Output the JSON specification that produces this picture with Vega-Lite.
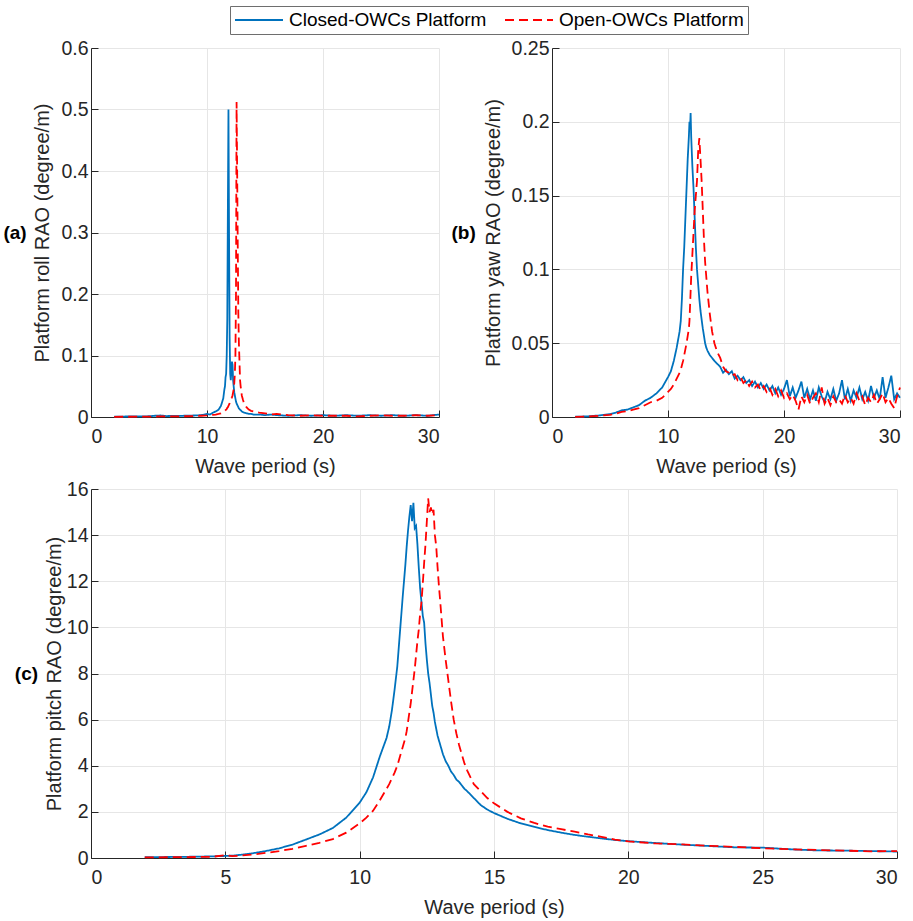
{
  "$schema": "https://vega.github.io/schema/vega-lite/v6.json",
  "background": "white",
  "padding": {"left": 3, "top": 5, "right": 5, "bottom": 3},
  "config": {
    "font": "Liberation Sans",
    "view": {"stroke": null},
    "axis": {
      "domainColor": "#262626",
      "domainWidth": 1,
      "tickColor": "#262626",
      "tickSize": -7,
      "labelFont": "Liberation Sans",
      "labelFontSize": 19.5,
      "labelColor": "#262626",
      "titleFont": "Liberation Sans",
      "titleFontSize": 20,
      "titleFontWeight": "normal",
      "titleColor": "#262626",
      "gridColor": "#e6e6e6",
      "gridWidth": 1
    },
    "axisX": {"labelPadding": 17, "titlePadding": 11},
    "axisY": {"labelPadding": 10, "titlePadding": 5},
    "line": {"strokeWidth": 1.8}
  },
  "datasets": {
    "a": [
      {"t": 2, "closed": 0.0005, "open": 0.0003},
      {"t": 3, "closed": 0.0008, "open": 0.0004},
      {"t": 4, "closed": 0.001, "open": 0.0005},
      {"t": 5, "closed": 0.0012, "open": 0.0006},
      {"t": 5.5, "closed": 0.002, "open": 0.0008},
      {"t": 6, "closed": 0.0025, "open": 0.001},
      {"t": 6.5, "closed": 0.0015, "open": 0.0009},
      {"t": 7, "closed": 0.0018, "open": 0.001},
      {"t": 8, "closed": 0.002, "open": 0.0012},
      {"t": 9, "closed": 0.0025, "open": 0.0015},
      {"t": 9.5, "closed": 0.003, "open": 0.002},
      {"t": 10, "closed": 0.005, "open": 0.0025},
      {"t": 10.25, "closed": 0.004, "open": 0.003},
      {"t": 10.5, "closed": 0.007, "open": 0.0035},
      {"t": 10.75, "closed": 0.009, "open": 0.004},
      {"t": 11, "closed": 0.012, "open": 0.005},
      {"t": 11.1, "closed": 0.015, "open": 0.0055},
      {"t": 11.2, "closed": 0.018, "open": 0.006},
      {"t": 11.3, "closed": 0.024, "open": 0.007},
      {"t": 11.4, "closed": 0.03, "open": 0.008},
      {"t": 11.5, "closed": 0.045, "open": 0.009},
      {"t": 11.55, "closed": 0.05, "open": 0.01},
      {"t": 11.6, "closed": 0.065, "open": 0.011},
      {"t": 11.65, "closed": 0.07, "open": 0.012},
      {"t": 11.7, "closed": 0.1, "open": 0.013},
      {"t": 11.75, "closed": 0.16, "open": 0.015},
      {"t": 11.8, "closed": 0.34, "open": 0.016},
      {"t": 11.85, "closed": 0.5, "open": 0.018},
      {"t": 11.9, "closed": 0.3, "open": 0.02},
      {"t": 11.95, "closed": 0.13, "open": 0.022},
      {"t": 12, "closed": 0.07, "open": 0.025},
      {"t": 12.05, "closed": 0.06, "open": 0.027},
      {"t": 12.1, "closed": 0.075, "open": 0.03},
      {"t": 12.15, "closed": 0.09, "open": 0.032},
      {"t": 12.2, "closed": 0.085, "open": 0.035},
      {"t": 12.25, "closed": 0.06, "open": 0.04},
      {"t": 12.3, "closed": 0.05, "open": 0.045},
      {"t": 12.35, "closed": 0.04, "open": 0.055},
      {"t": 12.4, "closed": 0.035, "open": 0.07},
      {"t": 12.45, "closed": 0.03, "open": 0.1},
      {"t": 12.5, "closed": 0.025, "open": 0.2},
      {"t": 12.55, "closed": 0.022, "open": 0.512},
      {"t": 12.6, "closed": 0.02, "open": 0.4},
      {"t": 12.65, "closed": 0.018, "open": 0.28},
      {"t": 12.7, "closed": 0.016, "open": 0.17},
      {"t": 12.75, "closed": 0.014, "open": 0.12},
      {"t": 12.8, "closed": 0.013, "open": 0.09},
      {"t": 12.85, "closed": 0.012, "open": 0.06},
      {"t": 12.9, "closed": 0.011, "open": 0.05},
      {"t": 13, "closed": 0.009, "open": 0.035},
      {"t": 13.1, "closed": 0.008, "open": 0.028},
      {"t": 13.2, "closed": 0.007, "open": 0.022},
      {"t": 13.4, "closed": 0.006, "open": 0.016},
      {"t": 13.6, "closed": 0.005, "open": 0.012},
      {"t": 13.8, "closed": 0.005, "open": 0.01},
      {"t": 14, "closed": 0.004, "open": 0.009},
      {"t": 14.5, "closed": 0.004, "open": 0.007},
      {"t": 15, "closed": 0.003, "open": 0.006},
      {"t": 15.5, "closed": 0.004, "open": 0.004},
      {"t": 16, "closed": 0.003, "open": 0.005},
      {"t": 17, "closed": 0.002, "open": 0.003},
      {"t": 18, "closed": 0.003, "open": 0.002},
      {"t": 19, "closed": 0.002, "open": 0.003},
      {"t": 20, "closed": 0.003, "open": 0.002},
      {"t": 21, "closed": 0.002, "open": 0.002},
      {"t": 22, "closed": 0.003, "open": 0.002},
      {"t": 23, "closed": 0.002, "open": 0.001},
      {"t": 24, "closed": 0.003, "open": 0.002},
      {"t": 25, "closed": 0.002, "open": 0.003},
      {"t": 26, "closed": 0.003, "open": 0.002},
      {"t": 27, "closed": 0.002, "open": 0.002},
      {"t": 28, "closed": 0.003, "open": 0.003},
      {"t": 29, "closed": 0.002, "open": 0.002},
      {"t": 30, "closed": 0.004, "open": 0.003}
    ],
    "b": [
      {"t": 2, "closed": 0.0002, "open": 0.0001},
      {"t": 3, "closed": 0.0004, "open": 0.0003},
      {"t": 4, "closed": 0.001, "open": 0.0008},
      {"t": 5, "closed": 0.002, "open": 0.0015},
      {"t": 5.5, "closed": 0.003, "open": 0.0022},
      {"t": 6, "closed": 0.0045, "open": 0.0035},
      {"t": 6.5, "closed": 0.005, "open": 0.004},
      {"t": 7, "closed": 0.0065, "open": 0.005},
      {"t": 7.5, "closed": 0.008, "open": 0.006},
      {"t": 8, "closed": 0.011, "open": 0.008},
      {"t": 8.5, "closed": 0.013, "open": 0.01},
      {"t": 9, "closed": 0.016, "open": 0.011},
      {"t": 9.5, "closed": 0.02, "open": 0.013},
      {"t": 10, "closed": 0.027, "open": 0.017},
      {"t": 10.25, "closed": 0.031, "open": 0.019},
      {"t": 10.5, "closed": 0.038, "open": 0.022},
      {"t": 10.75, "closed": 0.047, "open": 0.026},
      {"t": 11, "closed": 0.058, "open": 0.03},
      {"t": 11.1, "closed": 0.065, "open": 0.032},
      {"t": 11.2, "closed": 0.08, "open": 0.035},
      {"t": 11.3, "closed": 0.1, "open": 0.038},
      {"t": 11.4, "closed": 0.115, "open": 0.042},
      {"t": 11.5, "closed": 0.135, "open": 0.046},
      {"t": 11.6, "closed": 0.155, "open": 0.05},
      {"t": 11.7, "closed": 0.175, "open": 0.055},
      {"t": 11.8, "closed": 0.19, "open": 0.06},
      {"t": 11.85, "closed": 0.2, "open": 0.065},
      {"t": 11.9, "closed": 0.195, "open": 0.075},
      {"t": 11.95, "closed": 0.206, "open": 0.085},
      {"t": 12, "closed": 0.19, "open": 0.095},
      {"t": 12.1, "closed": 0.17, "open": 0.11},
      {"t": 12.2, "closed": 0.155, "open": 0.125},
      {"t": 12.3, "closed": 0.135, "open": 0.14},
      {"t": 12.4, "closed": 0.115, "open": 0.15},
      {"t": 12.5, "closed": 0.1, "open": 0.16},
      {"t": 12.6, "closed": 0.09, "open": 0.18},
      {"t": 12.7, "closed": 0.08, "open": 0.189},
      {"t": 12.8, "closed": 0.072, "open": 0.175},
      {"t": 12.9, "closed": 0.066, "open": 0.16},
      {"t": 13, "closed": 0.06, "open": 0.14},
      {"t": 13.1, "closed": 0.055, "open": 0.12},
      {"t": 13.2, "closed": 0.05, "open": 0.105},
      {"t": 13.3, "closed": 0.047, "open": 0.095},
      {"t": 13.4, "closed": 0.045, "open": 0.085},
      {"t": 13.6, "closed": 0.042, "open": 0.07},
      {"t": 13.8, "closed": 0.04, "open": 0.058},
      {"t": 14, "closed": 0.038, "open": 0.05},
      {"t": 14.25, "closed": 0.036, "open": 0.044},
      {"t": 14.5, "closed": 0.034, "open": 0.04},
      {"t": 14.75, "closed": 0.03, "open": 0.034},
      {"t": 15, "closed": 0.032, "open": 0.031},
      {"t": 15.25, "closed": 0.029, "open": 0.03},
      {"t": 15.5, "closed": 0.031, "open": 0.028},
      {"t": 15.75, "closed": 0.026, "open": 0.029},
      {"t": 16, "closed": 0.028, "open": 0.025},
      {"t": 16.25, "closed": 0.025, "open": 0.027},
      {"t": 16.5, "closed": 0.027, "open": 0.023},
      {"t": 16.75, "closed": 0.023, "open": 0.025},
      {"t": 17, "closed": 0.025, "open": 0.021},
      {"t": 17.25, "closed": 0.021, "open": 0.024},
      {"t": 17.5, "closed": 0.024, "open": 0.02},
      {"t": 17.75, "closed": 0.02, "open": 0.022},
      {"t": 18, "closed": 0.023, "open": 0.018},
      {"t": 18.25, "closed": 0.019, "open": 0.021},
      {"t": 18.5, "closed": 0.022, "open": 0.017},
      {"t": 18.75, "closed": 0.018, "open": 0.02},
      {"t": 19, "closed": 0.021, "open": 0.015},
      {"t": 19.25, "closed": 0.016, "open": 0.019},
      {"t": 19.5, "closed": 0.02, "open": 0.014},
      {"t": 19.75, "closed": 0.015, "open": 0.018},
      {"t": 20, "closed": 0.019, "open": 0.013},
      {"t": 20.25, "closed": 0.025, "open": 0.016},
      {"t": 20.5, "closed": 0.014, "open": 0.012},
      {"t": 20.75, "closed": 0.02, "open": 0.015},
      {"t": 21, "closed": 0.013, "open": 0.011},
      {"t": 21.25, "closed": 0.018, "open": 0.005},
      {"t": 21.5, "closed": 0.024, "open": 0.014},
      {"t": 21.75, "closed": 0.013, "open": 0.01},
      {"t": 22, "closed": 0.019, "open": 0.015},
      {"t": 22.25, "closed": 0.012, "open": 0.009},
      {"t": 22.5, "closed": 0.018, "open": 0.013},
      {"t": 22.75, "closed": 0.011, "open": 0.016},
      {"t": 23, "closed": 0.02, "open": 0.01},
      {"t": 23.25, "closed": 0.014, "open": 0.02},
      {"t": 23.5, "closed": 0.01, "open": 0.009},
      {"t": 23.75, "closed": 0.017, "open": 0.013},
      {"t": 24, "closed": 0.012, "open": 0.008},
      {"t": 24.25, "closed": 0.019, "open": 0.014},
      {"t": 24.5, "closed": 0.011, "open": 0.01},
      {"t": 24.75, "closed": 0.016, "open": 0.012},
      {"t": 25, "closed": 0.025, "open": 0.009},
      {"t": 25.25, "closed": 0.012, "open": 0.015},
      {"t": 25.5, "closed": 0.019, "open": 0.01},
      {"t": 25.75, "closed": 0.011, "open": 0.013},
      {"t": 26, "closed": 0.018, "open": 0.009},
      {"t": 26.25, "closed": 0.013, "open": 0.016},
      {"t": 26.5, "closed": 0.02, "open": 0.011},
      {"t": 26.75, "closed": 0.012, "open": 0.014},
      {"t": 27, "closed": 0.017, "open": 0.008},
      {"t": 27.25, "closed": 0.011, "open": 0.013},
      {"t": 27.5, "closed": 0.021, "open": 0.01},
      {"t": 27.75, "closed": 0.013, "open": 0.015},
      {"t": 28, "closed": 0.018, "open": 0.009},
      {"t": 28.25, "closed": 0.012, "open": 0.012},
      {"t": 28.5, "closed": 0.027, "open": 0.016},
      {"t": 28.75, "closed": 0.013, "open": 0.01},
      {"t": 29, "closed": 0.02, "open": 0.013},
      {"t": 29.25, "closed": 0.028, "open": 0.009},
      {"t": 29.5, "closed": 0.012, "open": 0.006},
      {"t": 29.75, "closed": 0.016, "open": 0.014},
      {"t": 30, "closed": 0.013, "open": 0.02}
    ],
    "c": [
      {"t": 2, "closed": 0.04, "open": 0.03},
      {"t": 2.5, "closed": 0.04, "open": 0.03},
      {"t": 3, "closed": 0.045, "open": 0.035},
      {"t": 3.5, "closed": 0.05, "open": 0.04},
      {"t": 4, "closed": 0.06, "open": 0.045},
      {"t": 4.5, "closed": 0.07, "open": 0.05},
      {"t": 5, "closed": 0.09, "open": 0.12},
      {"t": 5.25, "closed": 0.1, "open": 0.08},
      {"t": 5.5, "closed": 0.13, "open": 0.1},
      {"t": 6, "closed": 0.2, "open": 0.15},
      {"t": 6.5, "closed": 0.3, "open": 0.22},
      {"t": 7, "closed": 0.42, "open": 0.3},
      {"t": 7.5, "closed": 0.58, "open": 0.4},
      {"t": 8, "closed": 0.8, "open": 0.53},
      {"t": 8.5, "closed": 1.02, "open": 0.66},
      {"t": 9, "closed": 1.3, "open": 0.82},
      {"t": 9.5, "closed": 1.75, "open": 1.1},
      {"t": 10, "closed": 2.4, "open": 1.5},
      {"t": 10.25, "closed": 2.85, "open": 1.75},
      {"t": 10.5, "closed": 3.5, "open": 2.05},
      {"t": 10.75, "closed": 4.4, "open": 2.5},
      {"t": 11, "closed": 5.2, "open": 3.0},
      {"t": 11.1, "closed": 5.7, "open": 3.2},
      {"t": 11.2, "closed": 6.4, "open": 3.45},
      {"t": 11.3, "closed": 7.3, "open": 3.7},
      {"t": 11.4, "closed": 8.3, "open": 4.0},
      {"t": 11.5, "closed": 9.8, "open": 4.4},
      {"t": 11.6, "closed": 11.3, "open": 4.8},
      {"t": 11.7, "closed": 12.7, "open": 5.2},
      {"t": 11.75, "closed": 13.5, "open": 5.5},
      {"t": 11.8, "closed": 14.2, "open": 5.9},
      {"t": 11.85, "closed": 14.8, "open": 6.3},
      {"t": 11.9, "closed": 15.3, "open": 6.7},
      {"t": 11.95, "closed": 14.6, "open": 7.2},
      {"t": 12, "closed": 15.4, "open": 7.7},
      {"t": 12.05, "closed": 14.3, "open": 8.2},
      {"t": 12.1, "closed": 14.4, "open": 8.8},
      {"t": 12.15, "closed": 13.6, "open": 9.4},
      {"t": 12.2, "closed": 12.6, "open": 9.9},
      {"t": 12.25, "closed": 11.7, "open": 10.6},
      {"t": 12.3, "closed": 11.1, "open": 11.1},
      {"t": 12.35, "closed": 10.5, "open": 11.9},
      {"t": 12.4, "closed": 10.2, "open": 12.8},
      {"t": 12.45, "closed": 9.3, "open": 13.6},
      {"t": 12.5, "closed": 8.6, "open": 14.6},
      {"t": 12.55, "closed": 8.0, "open": 15.6},
      {"t": 12.6, "closed": 7.6, "open": 15.0},
      {"t": 12.65, "closed": 7.1, "open": 15.2},
      {"t": 12.7, "closed": 6.6, "open": 14.9},
      {"t": 12.75, "closed": 6.3, "open": 15.1},
      {"t": 12.8, "closed": 5.9, "open": 14.0},
      {"t": 12.85, "closed": 5.6, "open": 13.5},
      {"t": 12.9, "closed": 5.3, "open": 12.6},
      {"t": 12.95, "closed": 5.1, "open": 11.8},
      {"t": 13, "closed": 4.9, "open": 11.1},
      {"t": 13.1, "closed": 4.5, "open": 9.6},
      {"t": 13.2, "closed": 4.2, "open": 8.6},
      {"t": 13.3, "closed": 4.0, "open": 7.7},
      {"t": 13.4, "closed": 3.75, "open": 6.8},
      {"t": 13.5, "closed": 3.6, "open": 6.0},
      {"t": 13.6, "closed": 3.4, "open": 5.4},
      {"t": 13.7, "closed": 3.3, "open": 4.9},
      {"t": 13.8, "closed": 3.15, "open": 4.5},
      {"t": 13.9, "closed": 3.0, "open": 4.1},
      {"t": 14, "closed": 2.9, "open": 3.8},
      {"t": 14.25, "closed": 2.6, "open": 3.2},
      {"t": 14.5, "closed": 2.3, "open": 2.9},
      {"t": 14.75, "closed": 2.1, "open": 2.6},
      {"t": 15, "closed": 1.95, "open": 2.37},
      {"t": 15.5, "closed": 1.7, "open": 2.0},
      {"t": 16, "closed": 1.5, "open": 1.72},
      {"t": 16.5, "closed": 1.35, "open": 1.52},
      {"t": 17, "closed": 1.21, "open": 1.36},
      {"t": 17.5, "closed": 1.1, "open": 1.25},
      {"t": 18, "closed": 1.0, "open": 1.14},
      {"t": 18.5, "closed": 0.92, "open": 1.02},
      {"t": 19, "closed": 0.85, "open": 0.92},
      {"t": 19.5, "closed": 0.78, "open": 0.8},
      {"t": 20, "closed": 0.73, "open": 0.72},
      {"t": 21, "closed": 0.65, "open": 0.63},
      {"t": 22, "closed": 0.58, "open": 0.59},
      {"t": 23, "closed": 0.52, "open": 0.53},
      {"t": 24, "closed": 0.46, "open": 0.48},
      {"t": 25, "closed": 0.45, "open": 0.42},
      {"t": 26, "closed": 0.38, "open": 0.38},
      {"t": 27, "closed": 0.33, "open": 0.35},
      {"t": 28, "closed": 0.32, "open": 0.32},
      {"t": 29, "closed": 0.3, "open": 0.29},
      {"t": 30, "closed": 0.28, "open": 0.3}
    ]
  },
  "resolve": {
    "scale": {"color": "shared", "strokeDash": "shared"},
    "legend": {"color": "shared", "strokeDash": "shared"}
  },
  "spacing": 2,
  "vconcat": [
    {
      "spacing": 8,
      "hconcat": [
        {
          "width": 348,
          "height": 369,
          "title": {"text": "(a)", "orient": "left", "angle": 0, "fontSize": 19, "fontWeight": "bold", "color": "#000000", "offset": -17, "anchor": "middle", "align": "right", "baseline": "middle"},
          "data": {"name": "a"},
          "transform": [{"fold": ["closed", "open"], "as": ["series", "v"]}],
          "mark": {"type": "line", "strokeWidth": 1.8},
          "encoding": {
            "x": {"field": "t", "type": "quantitative", "scale": {"domain": [0, 30], "nice": false}, "axis": {"title": "Wave period (s)", "values": [0, 10, 20, 30]}},
            "y": {"field": "v", "type": "quantitative", "scale": {"domain": [0, 0.6], "nice": false}, "axis": {"title": "Platform roll RAO (degree/m)", "values": [0, 0.1, 0.2, 0.3, 0.4, 0.5, 0.6], "format": "~g", "titlePadding": 8}},
            "color": {"field": "series", "type": "nominal", "scale": {"domain": ["closed", "open"], "range": ["#0072BD", "#FF0000"]},
              "legend": {"title": null, "orient": "none", "direction": "horizontal", "legendX": 139, "legendY": -42, "symbolType": "stroke", "symbolSize": 2300, "symbolStrokeWidth": 1.8, "clipHeight": 20, "labelFontSize": 19, "labelLimit": 400, "labelOffset": 5, "labelColor": "#000000", "labelFont": "Liberation Sans", "columnPadding": 17, "padding": 4, "strokeColor": "#6e6e6e", "fillColor": "#ffffff", "labelExpr": "datum.value == 'closed' ? 'Closed-OWCs Platform' : 'Open-OWCs Platform'"}},
            "strokeDash": {"field": "series", "type": "nominal", "scale": {"domain": ["closed", "open"], "range": [[1, 0], [9, 5]]},
              "legend": {"title": null, "orient": "none", "direction": "horizontal", "legendX": 139, "legendY": -42, "symbolType": "stroke", "symbolSize": 2300, "symbolStrokeWidth": 1.8, "clipHeight": 20, "labelFontSize": 19, "labelLimit": 400, "labelOffset": 5, "labelColor": "#000000", "labelFont": "Liberation Sans", "columnPadding": 17, "padding": 4, "strokeColor": "#6e6e6e", "fillColor": "#ffffff", "labelExpr": "datum.value == 'closed' ? 'Closed-OWCs Platform' : 'Open-OWCs Platform'"}}
          }
        },
        {
          "width": 348,
          "height": 369,
          "title": {"text": "(b)", "orient": "left", "angle": 0, "fontSize": 19, "fontWeight": "bold", "color": "#000000", "offset": -17, "anchor": "middle", "align": "right", "baseline": "middle"},
          "data": {"name": "b"},
          "transform": [{"fold": ["closed", "open"], "as": ["series", "v"]}],
          "mark": {"type": "line", "strokeWidth": 1.8},
          "encoding": {
            "x": {"field": "t", "type": "quantitative", "scale": {"domain": [0, 30], "nice": false}, "axis": {"title": "Wave period (s)", "values": [0, 10, 20, 30]}},
            "y": {"field": "v", "type": "quantitative", "scale": {"domain": [0, 0.25], "nice": false}, "axis": {"title": "Platform yaw RAO (degree/m)", "values": [0, 0.05, 0.1, 0.15, 0.2, 0.25], "format": "~g", "titlePadding": 8}},
            "color": {"field": "series", "type": "nominal"},
            "strokeDash": {"field": "series", "type": "nominal"}
          }
        }
      ]
    },
    {
      "width": 806,
      "height": 369,
      "title": {"text": "(c)", "orient": "left", "angle": 0, "fontSize": 19, "fontWeight": "bold", "color": "#000000", "offset": -17, "anchor": "middle", "align": "right", "baseline": "middle"},
      "data": {"name": "c"},
      "transform": [{"fold": ["closed", "open"], "as": ["series", "v"]}],
      "mark": {"type": "line", "strokeWidth": 1.8},
      "encoding": {
        "x": {"field": "t", "type": "quantitative", "scale": {"domain": [0, 30], "nice": false}, "axis": {"title": "Wave period (s)", "values": [0, 5, 10, 15, 20, 25, 30]}},
        "y": {"field": "v", "type": "quantitative", "scale": {"domain": [0, 16], "nice": false}, "axis": {"title": "Platform pitch RAO (degree/m)", "values": [0, 2, 4, 6, 8, 10, 12, 14, 16], "titlePadding": 2}},
        "color": {"field": "series", "type": "nominal"},
        "strokeDash": {"field": "series", "type": "nominal"}
      }
    }
  ]
}
